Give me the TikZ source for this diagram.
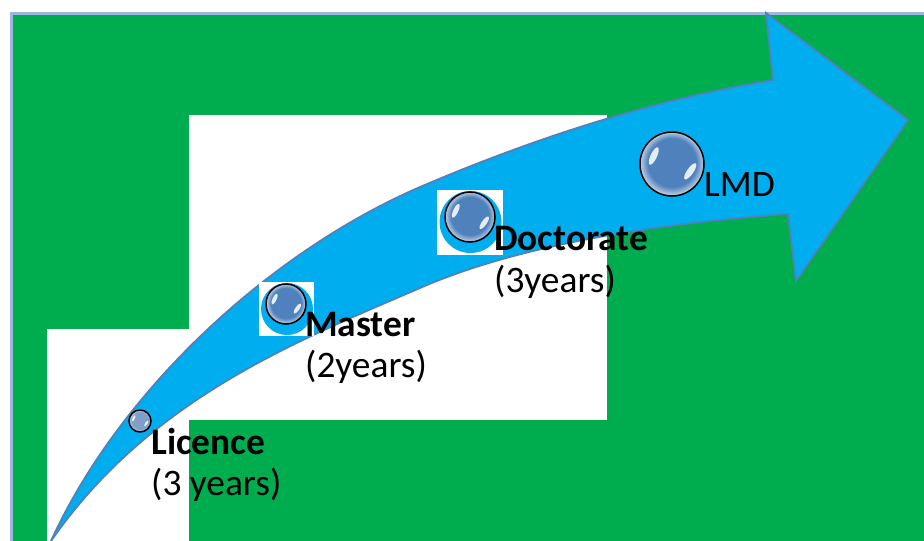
\documentclass[tikz,border=0pt]{standalone}
\usepackage{fontspec}
\setmainfont{Carlito}
\definecolor{grn}{HTML}{00AD4E}
\definecolor{arw}{HTML}{00AEEF}
\definecolor{arwl}{HTML}{4F81BD}
\definecolor{frm}{HTML}{9DB7E0}
\definecolor{orbc}{HTML}{4F81BD}
\definecolor{orbl}{HTML}{7F9FC9}
\definecolor{orbe}{HTML}{D5DDE8}
\pgfdeclareradialshading{orb}{\pgfpoint{0bp}{3bp}}{%
 color(0bp)=(orbc);color(19bp)=(orbc);color(26bp)=(orbe);color(30bp)=(orbe)}
\pgfdeclareradialshading{orbsmall}{\pgfpoint{0bp}{3bp}}{%
 color(0bp)=(orbl);color(19bp)=(orbl);color(26bp)=(orbe);color(30bp)=(orbe)}
\tikzset{
 sheet/.style={fill=white,draw=none},
 halo/.style={circle,fill=arw,draw=none,inner sep=0pt},
 orbnode/.style={circle,draw=black,line width=1.5pt,inner sep=0pt,shading=orb,anchor=center},
 glint/.style={fill=white,draw=none,opacity=.85},
 lbl/.style={anchor=base west,inner sep=0pt,text=black,font=\fontsize{37.4}{37.4}\selectfont},
 lblb/.style={lbl,font=\fontsize{37.4}{37.4}\selectfont\bfseries},
}
\newcommand\glints[3]{%
 \fill[glint,shift={(#1,#2)},shift={(-0.57*#3,-0.25*#3)},rotate=-25] (0,0) ellipse ({0.1*#3} and {0.3*#3});
 \fill[glint,shift={(#1,#2)},shift={(0.57*#3,0.23*#3)},rotate=-35] (0,0) ellipse ({0.1*#3} and {0.3*#3});
}
\begin{document}
\begin{tikzpicture}[x=1pt,y=-1pt]
\useasboundingbox (0,0) rectangle (924,541);
\fill[white] (0,0) rectangle (924,541);
% background
\fill[frm] (10,12) rectangle (924,541);
\fill[grn] (13,15) rectangle (924,541);
\fill[sheet] (47,329) rectangle (189,541);
\fill[sheet] (189,115) rectangle (607,420);
% arrow
\draw[fill=arw,draw=arwl,line width=1.8pt,line join=miter]
 (51,541) .. controls (120,390) and (270,252) .. (420,187)
 .. controls (530,140) and (650,100) .. (773,80)
 -- (766,13) -- (908,120) -- (796,281) -- (788,214)
 .. controls (680,222) and (530,240) .. (420,288)
 .. controls (300,340) and (151,397) .. (51,541) -- cycle;
% Doctorate orb
\fill[sheet] (437,190) rectangle (503,255);
\node[halo,minimum size=62pt] (haloD) at (470.5,222) {};
\node[orbnode,minimum size=50pt] (orbD) at (470,217) {};
\glints{470}{217}{25}
% Master orb
\fill[sheet] (259,282) rectangle (314,336);
\node[halo,minimum size=52pt] (haloM) at (287,309) {};
\node[orbnode,minimum size=40pt] (orbM) at (286,304) {};
\glints{286}{304}{20}
% Licence orb
\node[orbnode,shading=orbsmall,minimum size=22pt] (orbL) at (140,421) {};
\glints{140}{421}{11}
% LMD orb
\node[orbnode,minimum size=64pt] (orbT) at (672,164) {};
\glints{672}{164}{32}
% labels
\node[lbl] (lmd) at (704,196) {LMD};
\node[lblb] (doc) at (494,250) {Doctorate};
\node[lbl] (docy) at (494,292) {(3years)};
\node[lblb] (mas) at (305,336) {Master};
\node[lbl] (masy) at (305,377) {(2years)};
\node[lblb] (lic) at (151,454) {Licence};
\node[lbl] (licy) at (151,495) {(3 years)};
\end{tikzpicture}
\end{document}
